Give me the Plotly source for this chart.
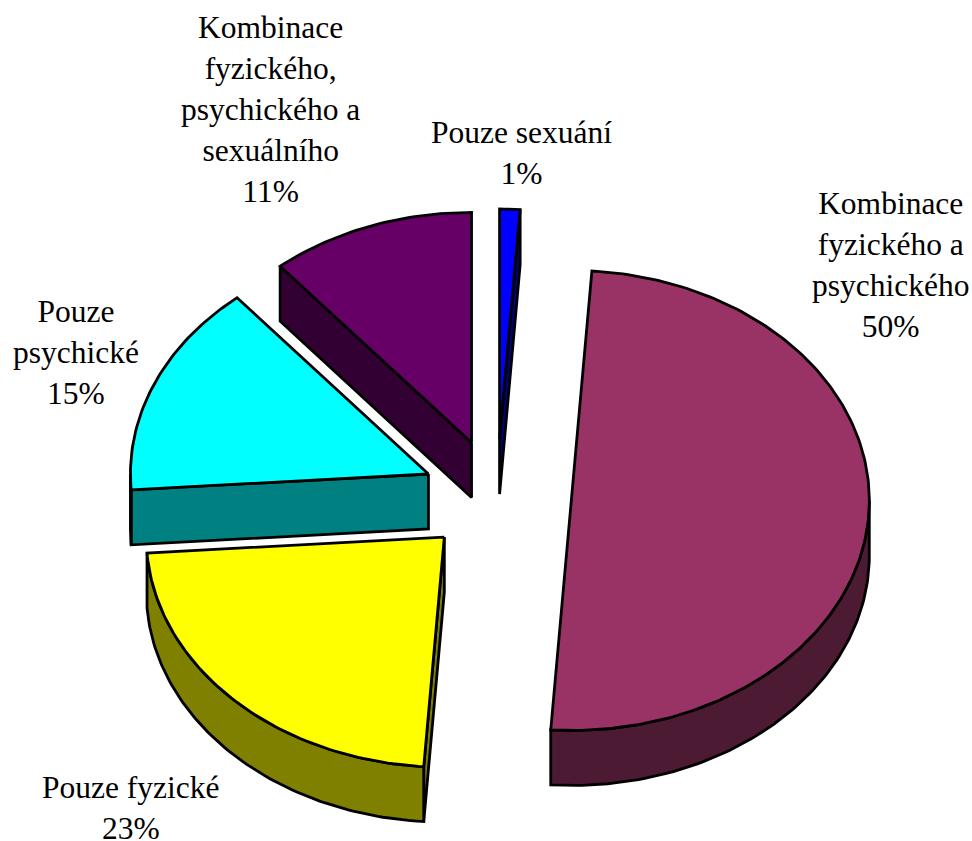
import math
import plotly.graph_objects as go

categories = ["Pouze sexuání", "Kombinace fyzického a psychického", "Pouze fyzické",
              "Pouze psychické", "Kombinace fyzického, psychického a sexuálního"]
values = [1.1, 50, 22.8, 15, 11.1]
top_colors = ["#0000FF", "#993366", "#FFFF00", "#00FFFF", "#660066"]
side_colors = ["#000080", "#4D1A33", "#808000", "#008080", "#330033"]
label_lines = ["Pouze sexuání<br>1%",
               "Kombinace<br>fyzického a<br>psychického<br>50%",
               "Pouze fyzické<br>23%",
               "Pouze<br>psychické<br>15%",
               "Kombinace<br>fyzického,<br>psychického a<br>sexuálního<br>11%"]
label_x = [521, 890, 131, 76, 270]
label_y = [153, 265, 808, 352, 109]

CX, CY, RX, RY, DEPTH, EXPLODE = 497, 496.5, 298, 230, 55, 0.25
LINE_W = 2.8


def pt(c, t):
    a = math.radians(t)
    return c[0] + RX * math.sin(a), c[1] - RY * math.cos(a)


def arc(c, t0, t1):
    n = max(2, int(abs(t1 - t0)) + 2)
    return [pt(c, t0 + (t1 - t0) * i / (n - 1)) for i in range(n)]


def poly(fig, pts, color, name):
    xs = [p[0] for p in pts] + [pts[0][0]]
    ys = [p[1] for p in pts] + [pts[0][1]]
    fig.add_trace(go.Scatter(x=xs, y=ys, mode="lines", fill="toself", fillcolor=color,
                             line=dict(color="black", width=LINE_W), name=name,
                             hoverinfo="name", showlegend=False))


fig = go.Figure()
total = sum(values)
angles = [0]
for v in values:
    angles.append(angles[-1] + 360 * v / total)

draw_order = [0, 4, 3, 1, 2]
for i in draw_order:
    t0, t1 = angles[i], angles[i + 1]
    mid = math.radians((t0 + t1) / 2)
    c = (CX + EXPLODE * RX * math.sin(mid), CY - EXPLODE * RY * math.cos(mid))
    down = lambda p: (p[0], p[1] + DEPTH)
    # radial cut faces seen by the viewer
    if 180 < t0 % 360 < 360:
        e = pt(c, t0)
        poly(fig, [c, e, down(e), down(c)], side_colors[i], categories[i])
    if 0 < t1 % 360 < 180:
        e = pt(c, t1)
        poly(fig, [c, e, down(e), down(c)], side_colors[i], categories[i])
    # outer rim on the front half
    r0, r1 = max(t0, 90), min(t1, 270)
    if r1 > r0:
        a = arc(c, r0, r1)
        poly(fig, a + [down(p) for p in reversed(a)], side_colors[i], categories[i])
    # top face
    poly(fig, [c] + arc(c, t0, t1), top_colors[i], categories[i])

for text, x, y in zip(label_lines, label_x, label_y):
    fig.add_annotation(x=x, y=y, text=text, showarrow=False, align="center",
                       xanchor="center", yanchor="middle",
                       font=dict(family="Liberation Serif", size=31.5, color="black"))

fig.update_layout(width=972, height=841,
                  margin=dict(l=0, r=0, t=0, b=0),
                  paper_bgcolor="white", plot_bgcolor="white", showlegend=False,
                  xaxis=dict(range=[0, 972], visible=False, fixedrange=True),
                  yaxis=dict(range=[841, 0], visible=False, fixedrange=True))
fig.write_html("out.html", config={"displayModeBar": False},
               post_script="document.body.style.margin='0';document.documentElement.style.overflow='hidden';")
